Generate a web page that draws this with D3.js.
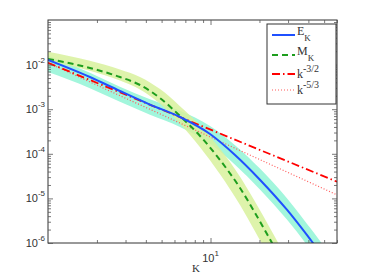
<!DOCTYPE html>
<html>
<head>
<meta charset="utf-8">
<script src="https://cdn.jsdelivr.net/npm/d3@7"></script>
<style>
    body { margin: 0; background: #fff; }
    .tickLabel { font-family: "Liberation Sans", sans-serif; fill: #333; }
    .serif { font-family: "Liberation Serif", serif; fill: #333; }
</style>
</head>
<body>
<script>
var kE = [1, 1.81, 2.77, 4.24, 6.49, 9.93, 14.15, 20.2, 29.6, 42.7, 54.4];
var kM = [1, 1.81, 2.77, 3.68, 4.89, 6.49, 8.62, 11.44, 15.19, 18.8, 23.9, 30.7];

//kinetic spectrum E_K and its spread
var eK    = [1.27e-2, 5.27e-3, 2.56e-3, 1.27e-3, 6.68e-4, 2.78e-4, 9.4e-5, 2.59e-5, 5.5e-6, 1e-6, 3.05e-7];
var eKlow = [6.8e-3, 2.96e-3, 1.47e-3, 7.5e-4, 4.0e-4, 1.67e-4, 5.7e-5, 1.56e-5, 3.3e-6, 6e-7, 1.84e-7];
var eKhigh= [1.6e-2, 6.6e-3, 3.2e-3, 1.67e-3, 9.2e-4, 4.2e-4, 1.56e-4, 4.6e-5, 1.0e-5, 1.8e-6, 5.5e-7];

//magnetic spectrum M_K and its spread
var mK    = [1.34e-2, 8.4e-3, 5.27e-3, 3.49e-3, 1.78e-3, 7.05e-4, 2.51e-4, 7.26e-5, 1.71e-5, 4.71e-6, 1e-6, 1.9e-7];
var mKlow = [1.19e-2, 7.3e-3, 4.4e-3, 2.77e-3, 1.32e-3, 4.7e-4, 1.41e-4, 3.5e-5, 7.1e-6, 1.8e-6, 3.8e-7, 7.2e-8];
var mKhigh= [1.94e-2, 1.22e-2, 7.8e-3, 5.3e-3, 2.82e-3, 1.17e-3, 4.35e-4, 1.29e-4, 3.04e-5, 8.4e-6, 1.78e-6, 3.4e-7];

//reference power laws, k^-3/2 and k^-5/3 (end points of straight lines)
var kRef = [1, 60];
var ref32 = [1.1e-2, 2.37e-5];
var ref53 = [1.1e-2, 1.2e-5];

//tick values and labels
var xMinor = [2, 3, 4, 5, 6, 7, 8, 9, 20, 30, 40, 50, 60];
var xMajor = [10];
var xLabels = [["10", "1"]];
var yMajor = [1e-6, 1e-5, 1e-4, 1e-3, 1e-2];
var yLabels = [["10", "-6"], ["10", "-5"], ["10", "-4"], ["10", "-3"], ["10", "-2"]];
var yMinor = [];
yMajor.forEach(function(d){
    for (var i = 2; i <= 9; i++) yMinor.push(d * i);
});

//legend entries
var legendMain = ["E", "M", "k", "k"];
var legendSub = ["K", "K", "", ""];
var legendSup = ["", "", "-3/2", "-5/3"];

window.onload = drawChart();

function drawChart(){

    var width = 374,
        height = 275;

    var svg = d3.select("body")
        .append("svg")
        .attr("width", width)
        .attr("height", height);

    //plot frame
    var left = 48, right = 337, top = 20, bottom = 243;

    var x = d3.scaleLog().domain([1, 60]).range([left, right]);
    var y = d3.scaleLog().domain([1e-6, 1e-1]).range([bottom, top]);

    svg.append("clipPath")
        .attr("id", "plotClip")
        .append("rect")
        .attr("x", left)
        .attr("y", top)
        .attr("width", right - left)
        .attr("height", bottom - top);

    var plot = svg.append("g").attr("clip-path", "url(#plotClip)");

    //bands first, lines on top
    var band = d3.area()
        .x(function(d){ return x(d[0]); })
        .y0(function(d){ return y(d[1]); })
        .y1(function(d){ return y(d[2]); })
        .curve(d3.curveMonotoneX);

    plot.append("path")
        .datum(kE.map(function(k, i){ return [k, eKlow[i], eKhigh[i]]; }))
        .attr("d", band)
        .attr("fill", "#a2f6dc");

    plot.append("path")
        .datum(kM.map(function(k, i){ return [k, mKlow[i], mKhigh[i]]; }))
        .attr("d", band)
        .attr("fill", "#d8f19c")
        .attr("fill-opacity", 0.85);

    var line = d3.line()
        .x(function(d){ return x(d[0]); })
        .y(function(d){ return y(d[1]); })
        .curve(d3.curveMonotoneX);

    var zip = function(ks, vs){ return ks.map(function(k, i){ return [k, vs[i]]; }); };

    //line styles, shared with the legend
    var styles = [
        {color: "#1f50ff", width: 2, dash: null},
        {color: "#1e9e1e", width: 2, dash: "6,4"},
        {color: "#ff0000", width: 1.8, dash: "8,3,1.5,3"},
        {color: "#ff5a5a", width: 1.2, dash: "1,2"}
    ];
    var series = [zip(kE, eK), zip(kM, mK), zip(kRef, ref32), zip(kRef, ref53)];

    //draw back to front: reference lines, then spectra
    [3, 2, 1, 0].forEach(function(i){
        plot.append("path")
            .datum(series[i])
            .attr("d", line)
            .attr("fill", "none")
            .attr("stroke", styles[i].color)
            .attr("stroke-width", styles[i].width)
            .attr("stroke-dasharray", styles[i].dash);
    });

    //axes box
    svg.append("rect")
        .attr("x", left)
        .attr("y", top)
        .attr("width", right - left)
        .attr("height", bottom - top)
        .attr("fill", "none")
        .attr("stroke", "#333")
        .attr("stroke-width", 1);

    //ticks pointing inward on all four sides
    function tickSet(axisFn, scale, vals, len, tx, ty){
        var g = svg.append("g")
            .attr("transform", "translate(" + tx + "," + ty + ")")
            .call(axisFn(scale).tickValues(vals).tickSize(-len).tickFormat(""));
        g.select(".domain").remove();
        g.selectAll("line").attr("stroke", "#555").attr("stroke-width", 0.8);
    }
    tickSet(d3.axisBottom, x, xMinor, 3, 0, bottom);
    tickSet(d3.axisBottom, x, xMajor, 5, 0, bottom);
    tickSet(d3.axisTop, x, xMinor, 3, 0, top);
    tickSet(d3.axisTop, x, xMajor, 5, 0, top);
    tickSet(d3.axisLeft, y, yMinor, 3, left, 0);
    tickSet(d3.axisLeft, y, yMajor, 5, left, 0);
    tickSet(d3.axisRight, y, yMinor, 3, right, 0);
    tickSet(d3.axisRight, y, yMajor, 5, right, 0);

    //y tick labels with superscript exponents
    yMajor.forEach(function(v, i){
        var t = svg.append("text")
            .attr("class", "tickLabel")
            .attr("x", left - 3)
            .attr("y", y(v) + 4)
            .attr("text-anchor", "end")
            .style("font-size", "11px");
        t.append("tspan").text(yLabels[i][0]);
        t.append("tspan").attr("dy", -6).style("font-size", "8px").text(yLabels[i][1]);
    });

    //x tick labels
    xMajor.forEach(function(v, i){
        var t = svg.append("text")
            .attr("class", "tickLabel")
            .attr("x", x(v))
            .attr("y", 262)
            .attr("text-anchor", "middle")
            .style("font-size", "11px");
        t.append("tspan").text(xLabels[i][0]);
        t.append("tspan").attr("dy", -6).style("font-size", "8px").text(xLabels[i][1]);
    });

    //axis label
    svg.append("text")
        .attr("class", "serif")
        .attr("x", 196)
        .attr("y", 272)
        .attr("text-anchor", "middle")
        .style("font-size", "11px")
        .text("K");

    //legend box
    var lx = 267, ly = 24;
    svg.append("rect")
        .attr("x", lx)
        .attr("y", ly)
        .attr("width", 69)
        .attr("height", 80)
        .attr("fill", "#fff")
        .attr("stroke", "#333")
        .attr("stroke-width", 1);

    var rowY = [35, 55, 74, 90];
    legendMain.forEach(function(txt, i){
        svg.append("line")
            .attr("x1", lx + 5)
            .attr("x2", lx + 28)
            .attr("y1", rowY[i])
            .attr("y2", rowY[i])
            .attr("stroke", styles[i].color)
            .attr("stroke-width", styles[i].width)
            .attr("stroke-dasharray", styles[i].dash);

        var t = svg.append("text")
            .attr("class", "serif")
            .attr("x", lx + 30)
            .attr("y", i < 2 ? rowY[i] - 0.5 : rowY[i] + 4)
            .style("font-size", "12px");
        t.append("tspan").text(txt);
        if (legendSub[i]) {
            t.append("tspan").attr("dy", 6).style("font-size", "9px").text(legendSub[i]);
        }
        if (legendSup[i]) {
            t.append("tspan").attr("dy", -6).style("font-size", "10px").text(legendSup[i]);
        }
    });
};
</script>
</body>
</html>
